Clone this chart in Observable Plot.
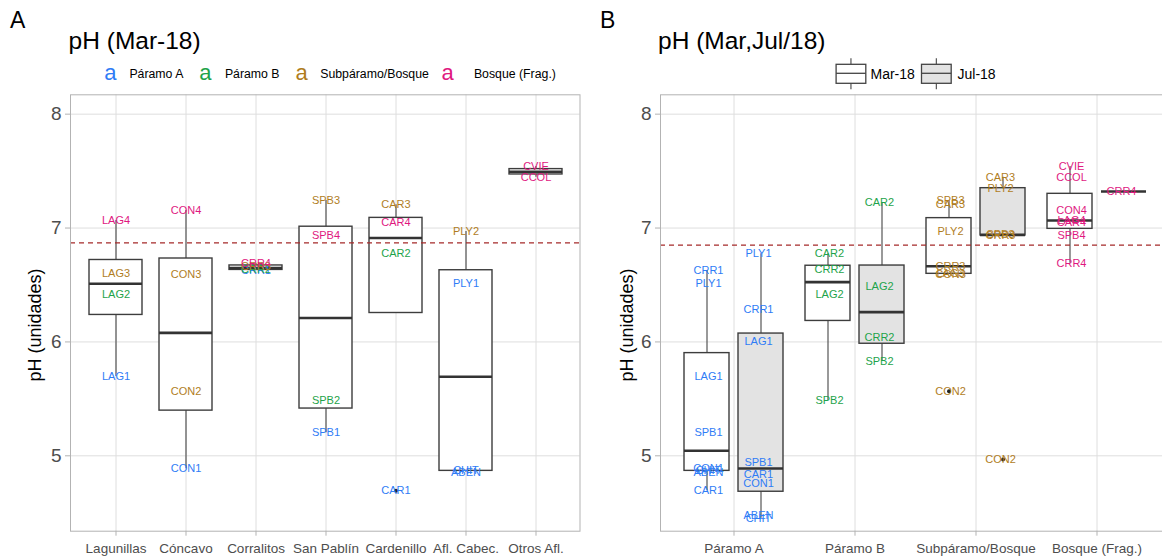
<!DOCTYPE html>
<html><head><meta charset="utf-8">
<script src="https://cdn.jsdelivr.net/npm/d3@7"></script>
<script src="https://cdn.jsdelivr.net/npm/@observablehq/plot@0.6"></script>
<style>
html,body{margin:0;padding:0;background:#fff;overflow:hidden;}
#root{position:relative;width:1162px;height:556px;overflow:hidden;font-family:"Liberation Sans",Arial,Helvetica,sans-serif;color:#000;}
.abs{position:absolute;white-space:nowrap;line-height:1;}
#root svg.layer{position:absolute;top:0;}
</style></head><body><div id="root"></div>
<script>
// ---------- data ----------
const locations = ["Lagunillas","Cóncavo","Corralitos","San Pablín","Cardenillo","Afl. Cabec.","Otros Afl."];
const zones = ["Páramo A","Páramo B","Subpáramo/Bosque","Bosque (Frag.)"];
const zoneColors = ["#2f7cf6","#1ea34a","#b07d1e","#e0187f"];
const periods = ["Mar-18","Jul-18"];
const periodFills = ["#ffffff","#e3e3e3"];
const yTicks = [5,6,7,8];
const yDomain = [4.338, 8.170];
const refLineA = [6.87];
const refLineB = [6.85];

const marCodes = ["LAG1","LAG2","LAG3","LAG4","CON1","CON2","CON3","CON4","CRR1","CRR2","CRR3","CRR4",
  "SPB1","SPB2","SPB3","SPB4","CAR1","CAR2","CAR3","CAR4","ABEN","CHIT","PLY1","PLY2","CVIE","CCOL"];
const marLocs = ["Lagunillas","Lagunillas","Lagunillas","Lagunillas","Cóncavo","Cóncavo","Cóncavo","Cóncavo",
  "Corralitos","Corralitos","Corralitos","Corralitos","San Pablín","San Pablín","San Pablín","San Pablín",
  "Cardenillo","Cardenillo","Cardenillo","Cardenillo","Afl. Cabec.","Afl. Cabec.","Afl. Cabec.","Afl. Cabec.",
  "Otros Afl.","Otros Afl."];
const marZones = ["Páramo A","Páramo B","Subpáramo/Bosque","Bosque (Frag.)",
  "Páramo A","Subpáramo/Bosque","Subpáramo/Bosque","Bosque (Frag.)",
  "Páramo A","Páramo B","Subpáramo/Bosque","Bosque (Frag.)",
  "Páramo A","Páramo B","Subpáramo/Bosque","Bosque (Frag.)",
  "Páramo A","Páramo B","Subpáramo/Bosque","Bosque (Frag.)",
  "Páramo A","Páramo A","Páramo A","Subpáramo/Bosque",
  "Bosque (Frag.)","Bosque (Frag.)"];
const marPh = [5.697,6.417,6.604,7.066, 4.886,5.567,6.592,7.154, 6.627,6.634,6.665,6.691,
  5.202,5.486,7.242,6.935, 4.694,6.774,7.204,7.051, 4.855,4.872,6.516,6.970, 7.541,7.447];

const julCodes = ["PLY1","CRR1","LAG1","SPB1","CAR1","CON1","ABEN","CHIT",
  "CAR2","LAG2","CRR2","SPB2", "CAR3","PLY2","SPB3","CRR3","CON2", "CRR4"];
const julZones = ["Páramo A","Páramo A","Páramo A","Páramo A","Páramo A","Páramo A","Páramo A","Páramo A",
  "Páramo B","Páramo B","Páramo B","Páramo B",
  "Subpáramo/Bosque","Subpáramo/Bosque","Subpáramo/Bosque","Subpáramo/Bosque","Subpáramo/Bosque",
  "Bosque (Frag.)"];
const julPh = [6.774,6.282,6.004,4.944,4.833,4.754,4.476,4.452,
  7.222,6.487,6.036,5.828, 7.447,7.350,6.940,6.935,4.968, 7.321];

// ---------- derived tables ----------
const rowsMar = marCodes.map((c,i)=>({code:c, loc:marLocs[i], zone:marZones[i], ph:marPh[i], period:"Mar-18"}));
const rowsJul = julCodes.map((c,i)=>({code:c, zone:julZones[i], ph:julPh[i], period:"Jul-18"}));
const rowsB = rowsMar.concat(rowsJul);

function summarize(v){
  const vals = v.map(d=>d.ph).sort(d3.ascending);
  const q1 = d3.quantileSorted(vals,0.25), med = d3.quantileSorted(vals,0.5), q3 = d3.quantileSorted(vals,0.75);
  const iqr = q3-q1, lo = q1-1.5*iqr, hi = q3+1.5*iqr;
  const inside = vals.filter(x=>x>=lo && x<=hi);
  return {q1, med, q3, wlo:d3.min(inside), whi:d3.max(inside), lo, hi};
}
const statsA = d3.rollups(rowsMar, summarize, d=>d.loc).map(([loc,s])=>({loc,...s}));
const statsAMap = new Map(statsA.map(s=>[s.loc,s]));
const outA = rowsMar.filter(d=>{const s=statsAMap.get(d.loc); return d.ph<s.lo||d.ph>s.hi;});

const statsB = d3.flatRollup(rowsB, summarize, d=>d.zone, d=>d.period).map(([zone,period,s])=>({zone,period,...s}));
const statsBMap = new Map(statsB.map(s=>[s.zone+"|"+s.period,s]));
const outB = rowsB.filter(d=>{const s=statsBMap.get(d.zone+"|"+d.period); return d.ph<s.lo||d.ph>s.hi;});

// ---------- style ----------
const FONT = '"Liberation Sans", Arial, Helvetica, sans-serif';
const svgStyle = {background:"transparent", overflow:"visible", maxWidth:"none", fontFamily:FONT, color:"#4d4d4d"};
const M = {marginTop:94.3, marginBottom:25.3, height:556};
const GRID = "#dedede", BORDER = "#b3b3b3", BOXSTROKE = "#3d3d3d", WHISK = "#555555", REF = "#a52a2a";
const yFmt = d3.format("d");

const root = document.getElementById("root");
function addSvg(svg, left){ svg.classList.add("layer"); svg.style.left = left+"px"; root.appendChild(svg); }

// ---------- Panel A ----------
const plotA = Plot.plot({
  width:600, ...M, marginLeft:70, marginRight:20.5,
  style:svgStyle,
  x:{type:"band", domain:locations, paddingInner:0.25, paddingOuter:0.225},
  y:{domain:yDomain},
  color:{domain:zones, range:zoneColors},
  marks:[
    Plot.gridY(yTicks,{stroke:GRID, strokeOpacity:1, strokeWidth:1}),
    Plot.gridX({stroke:GRID, strokeOpacity:1, strokeWidth:1}),
    Plot.ruleX(statsA,{x:"loc", y1:"wlo", y2:"whi", stroke:WHISK, strokeWidth:1.2}),
    Plot.barY(statsA,{x:"loc", y1:"q1", y2:"q3", fill:"white", stroke:BOXSTROKE, strokeWidth:1.4}),
    Plot.tickY(statsA,{x:"loc", y:"med", stroke:"#333", strokeWidth:2.6}),
    Plot.dot(outA,{x:"loc", y:"ph", r:2, fill:"#222", stroke:null}),
    Plot.ruleY(refLineA,{stroke:REF, strokeDasharray:"5,4", strokeWidth:1.3}),
    Plot.text(rowsMar,{x:"loc", y:"ph", text:"code", fill:"zone", fontSize:11, fontFamily:FONT}),
    Plot.frame({stroke:BORDER, strokeWidth:1}),
    Plot.axisX({tickSize:5, tickPadding:7, fontSize:13.5, color:"#4d4d4d", stroke:BORDER, label:null}),
    Plot.axisY(yTicks,{tickSize:5, tickPadding:4, fontSize:19, color:"#4d4d4d", stroke:BORDER, label:null, tickFormat:yFmt})
  ]
});
addSvg(plotA, 0);

// ---------- Panel B ----------
const dimB = {width:580, ...M, marginLeft:60, marginRight:10.7, style:svgStyle};
const bgB = Plot.plot({
  ...dimB,
  x:{type:"band", domain:zones, paddingInner:0, paddingOuter:0.1},
  y:{domain:yDomain},
  marks:[
    Plot.gridY(yTicks,{stroke:GRID, strokeOpacity:1, strokeWidth:1}),
    Plot.gridX({stroke:GRID, strokeOpacity:1, strokeWidth:1}),
    Plot.axisX({tickSize:5, tickPadding:7, fontSize:13.5, color:"#4d4d4d", stroke:BORDER, label:null}),
    Plot.axisY(yTicks,{tickSize:5, tickPadding:4, fontSize:19, color:"#4d4d4d", stroke:BORDER, label:null, tickFormat:yFmt})
  ]
});
addSvg(bgB, 600);

function facetLayer(marks, color){
  return Plot.plot({
    ...dimB,
    fx:{domain:zones, paddingInner:0.173, paddingOuter:0.186, axis:null, label:null},
    x:{domain:periods, paddingInner:0.17, paddingOuter:0, axis:null, label:null},
    y:{domain:yDomain, axis:null},
    color,
    marks
  });
}
const boxesB = facetLayer([
  Plot.ruleX(statsB,{fx:"zone", x:"period", y1:"wlo", y2:"whi", stroke:WHISK, strokeWidth:1.2}),
  Plot.barY(statsB,{fx:"zone", x:"period", y1:"q1", y2:"q3", fill:"period", stroke:BOXSTROKE, strokeWidth:1.4}),
  Plot.tickY(statsB,{fx:"zone", x:"period", y:"med", stroke:"#333", strokeWidth:2.6}),
  Plot.dot(outB,{fx:"zone", x:"period", y:"ph", r:2, fill:"#222", stroke:null})
], {domain:periods, range:periodFills});
addSvg(boxesB, 600);

const lineB = Plot.plot({
  ...dimB,
  x:{type:"band", domain:zones, paddingInner:0, paddingOuter:0.1, axis:null},
  y:{domain:yDomain, axis:null},
  marks:[
    Plot.ruleY(refLineB,{stroke:REF, strokeDasharray:"5,4", strokeWidth:1.3}),
    Plot.frame({stroke:BORDER, strokeWidth:1})
  ]
});
addSvg(lineB, 600);

const textB = facetLayer([
  Plot.text(rowsB,{fx:"zone", x:"period", y:"ph", text:"code", fill:"zone", fontSize:11, fontFamily:FONT})
], {domain:zones, range:zoneColors});
addSvg(textB, 600);

// ---------- titles, legends, axis titles ----------
function addText(txt, left, top, size, extra){
  const d = document.createElement("div");
  d.className = "abs"; d.textContent = txt;
  d.style.left = left+"px"; d.style.top = top+"px"; d.style.fontSize = size+"px";
  if (extra) Object.assign(d.style, extra);
  root.appendChild(d); return d;
}
addText("A", 10, 9, 23);
addText("B", 600, 9, 23);
addText("pH (Mar-18)", 68.6, 29.3, 24.5);
addText("pH (Mar,Jul/18)", 658, 29.3, 24.5);
addText("pH (unidades)", 35, 325, 18, {transform:"translate(-50%,-50%) rotate(-90deg)"});
addText("pH (unidades)", 627, 325, 18, {transform:"translate(-50%,-50%) rotate(-90deg)"});

// legend A
const legA = [[110.4,130.2],[205.3,225.7],[301.5,321],[447.5,474.7]];
zones.forEach((z,i)=>{
  addText("a", legA[i][0]-6.1, 62.1, 22, {color:zoneColors[i]});
  addText(z, legA[i][1]-0.8, 67.9, 12.3);
});

// legend B (box key glyphs)
const ns = "http://www.w3.org/2000/svg";
const key = document.createElementNS(ns,"svg");
key.setAttribute("width","130"); key.setAttribute("height","40");
Object.assign(key.style,{position:"absolute", left:"831px", top:"55px"});
[[5.1,periodFills[0]],[90.5,periodFills[1]]].forEach(([x0,f])=>{
  const w = 29.7, cx = x0+w/2;
  const l = document.createElementNS(ns,"line");
  l.setAttribute("x1",cx); l.setAttribute("x2",cx); l.setAttribute("y1",3.3); l.setAttribute("y2",34.3);
  l.setAttribute("stroke","#555"); l.setAttribute("stroke-width","1.2"); key.appendChild(l);
  const r = document.createElementNS(ns,"rect");
  r.setAttribute("x",x0); r.setAttribute("y",9.3); r.setAttribute("width",w); r.setAttribute("height",19);
  r.setAttribute("fill",f); r.setAttribute("stroke","#444"); r.setAttribute("stroke-width","1.3"); key.appendChild(r);
  const m = document.createElementNS(ns,"line");
  m.setAttribute("x1",x0); m.setAttribute("x2",x0+w); m.setAttribute("y1",18.3); m.setAttribute("y2",18.3);
  m.setAttribute("stroke","#444"); m.setAttribute("stroke-width","1.3"); key.appendChild(m);
});
root.appendChild(key);
addText(periods[0], 870.5, 66.5, 14);
addText(periods[1], 957.5, 66.5, 14);
</script>
</body></html>
